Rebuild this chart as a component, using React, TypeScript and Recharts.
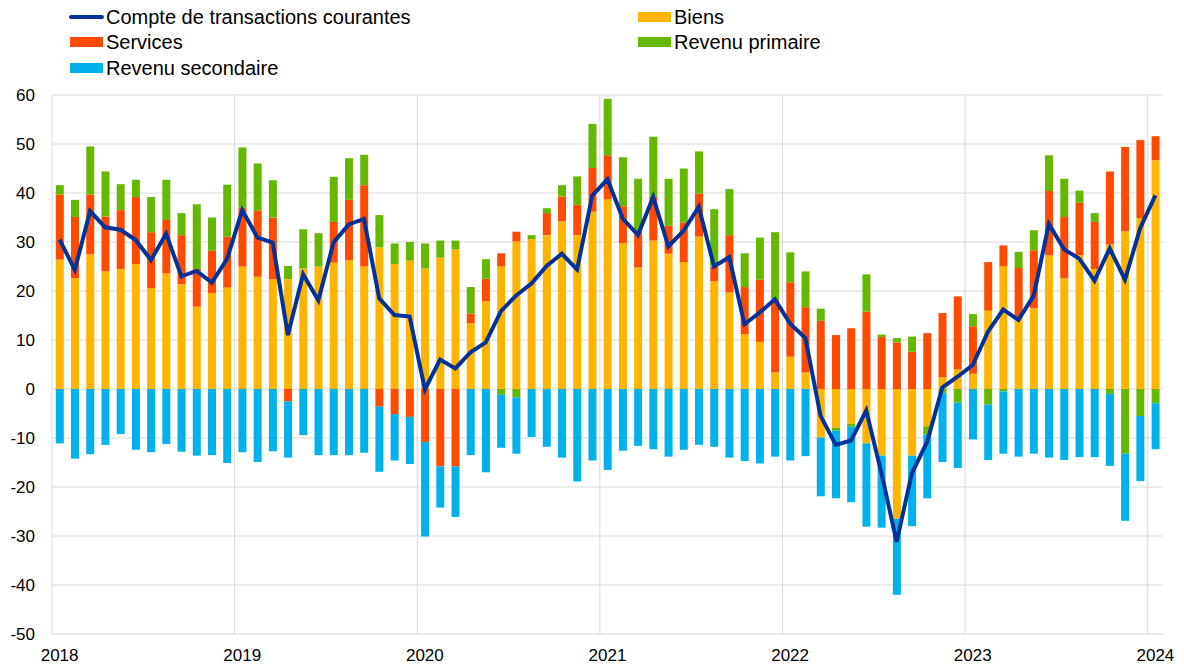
import React from "react";
import {
  ComposedChart,
  Bar,
  Line,
  XAxis,
  YAxis,
  CartesianGrid,
} from "recharts";

// monthly data, Jan 2018 - Jan 2024 (EUR bn)
const years = ["2018", "2019", "2020", "2021", "2022", "2023", "2024"];

const biens = [
  26.4, 22.6, 27.5, 24.0, 24.5, 25.5, 20.6, 23.6, 21.4, 16.8, 19.6, 20.7,
  25.0, 22.9, 22.4, 22.4, 24.6, 25.0, 25.8, 26.3, 25.0, 28.9, 25.5, 26.2,
  24.6, 26.8, 28.5, 13.4, 17.9, 25.0, 30.1, 30.6, 31.4, 34.2, 31.4, 36.2,
  38.7, 29.8, 24.8, 30.3, 27.6, 25.9, 31.1, 22.0, 19.7, 11.2, 9.6, 3.4,
  6.6, 3.4, -9.9, -7.9, -7.1, -11.1, -13.6, -26.5, -13.6, -7.6, 2.4, 4.0,
  3.1, 16.0, 25.0, 14.6, 16.5, 27.3, 22.6, 27.3, 24.5, 29.5, 32.2, 34.9,
  46.7,
];

const services = [
  13.3, 12.5, 12.2, 11.2, 12.0, 13.7, 11.4, 10.9, 10.0, 7.7, 8.6, 10.4,
  12.0, 13.5, 12.6, -2.5, 0, 0, 8.3, 12.3, 16.6, -3.6, -5.1, -5.7,
  -10.8, -15.8, -15.8, 2.0, 4.6, 2.7, 2.0, 0, 4.5, 5.1, 6.2, 8.9,
  9.0, 7.5, 7.3, 8.9, 5.7, 8.1, 8.8, 3.0, 11.7, 9.6, 12.7, 14.8,
  15.2, 13.3, 13.9, 11.0, 12.4, 15.8, 10.6, 9.5, 7.6, 11.4, 13.1, 14.9,
  9.7, 9.9, 4.3, 10.1, 11.8, 13.1, 12.5, 10.7, 9.6, 14.9, 17.2, 15.9,
  4.9,
];

const revenuPrimaire = [
  1.9, 3.5, 9.8, 9.2, 5.3, 3.5, 7.2, 8.2, 4.5, 13.2, 6.8, 10.6,
  12.3, 9.6, 7.6, 2.7, 8.0, 6.8, 9.2, 8.5, 6.2, 6.6, 4.2, 3.8,
  5.1, 3.5, 1.8, 5.4, 4.0, -1.2, -1.7, 0.8, 1.0, 2.3, 5.8, 9.0,
  11.5, 10.0, 10.8, 12.3, 9.6, 11.0, 8.6, 11.7, 9.4, 6.9, 8.6, 13.8,
  6.1, 7.3, 2.5, -0.6, -0.6, 7.6, 0.5, 0.9, 3.1, -1.7, -0.9, -2.8,
  2.5, -3.2, -0.5, 3.3, 4.1, 7.3, 7.8, 2.5, 1.8, -1.0, -13.2, -5.5,
  -2.9,
];

const revenuSecondaire = [
  -11.1, -14.2, -13.3, -11.4, -9.2, -12.4, -12.9, -11.2, -12.8, -13.6, -13.5, -15.1,
  -12.9, -14.9, -12.7, -11.5, -9.4, -13.5, -13.5, -13.5, -13.0, -13.3, -9.5, -9.6,
  -19.3, -8.4, -10.3, -13.5, -17.0, -10.8, -11.5, -9.8, -11.8, -14.0, -18.9, -14.6,
  -16.5, -12.6, -11.6, -12.3, -13.8, -12.4, -11.4, -11.8, -14.0, -14.7, -15.2, -13.8,
  -14.6, -13.7, -12.0, -13.8, -15.4, -17.0, -14.7, -15.5, -14.4, -13.0, -14.0, -13.3,
  -10.3, -11.3, -12.7, -13.8, -13.2, -14.0, -14.5, -13.9, -13.9, -14.7, -13.7, -13.3,
  -9.4,
];

const compteCourant = [
  30.5, 24.3, 36.3, 33.0, 32.5, 30.4, 26.3, 31.7, 23.0, 24.1, 21.7, 26.5,
  36.5, 30.9, 29.9, 11.0, 23.4, 18.1, 29.9, 33.6, 34.7, 18.5, 15.1, 14.8,
  -0.1, 6.0, 4.2, 7.5, 9.5, 15.9, 19.1, 21.5, 25.1, 27.6, 24.4, 39.5,
  42.8, 34.8, 31.4, 39.2, 29.1, 32.3, 37.2, 25.0, 26.9, 13.2, 15.6, 18.3,
  13.3, 10.4, -5.5, -11.4, -10.5, -4.4, -17.2, -31.2, -17.2, -10.8, 0.3, 2.5,
  4.9, 11.7, 16.2, 14.1, 19.0, 33.7, 28.5, 26.6, 22.1, 28.7, 22.3, 32.8,
  39.5,
];

const yTicks = [60, 50, 40, 30, 20, 10, 0, -10, -20, -30, -40, -50];

const months = years
  .flatMap((y) => Array.from({ length: 12 }, (_, m) => `${y}-${String(m + 1).padStart(2, "0")}`))
  .slice(0, biens.length);

const data = months.map((m, i) => ({
  month: m,
  biens: biens[i],
  services: services[i],
  primaire: revenuPrimaire[i],
  secondaire: revenuSecondaire[i],
  compte: compteCourant[i],
}));

const COLORS = {
  compte: "#003299",
  biens: "#FFB400",
  services: "#FF4B00",
  primaire: "#65B800",
  secondaire: "#00B1EA",
};

const FONT = "'Liberation Sans', Arial, sans-serif";

const legendItems = [
  { label: "Compte de transactions courantes", color: COLORS.compte, line: true, x: 69, y: 17 },
  { label: "Biens", color: COLORS.biens, x: 638, y: 17 },
  { label: "Services", color: COLORS.services, x: 70, y: 42 },
  { label: "Revenu primaire", color: COLORS.primaire, x: 638, y: 42 },
  { label: "Revenu secondaire", color: COLORS.secondaire, x: 70, y: 68 },
];

function ChartLegend() {
  return (
    <>
      {legendItems.map((it) => (
        <div
          key={it.label}
          style={{
            position: "absolute",
            left: it.x,
            top: it.y - 12,
            height: 24,
            display: "flex",
            alignItems: "center",
            fontFamily: FONT,
            fontSize: 20,
            color: "#000",
            whiteSpace: "nowrap",
          }}
        >
          <span
            style={{
              display: "inline-block",
              width: it.line ? 35 : 33,
              height: it.line ? 4 : 10,
              borderRadius: it.line ? 2 : 0,
              background: it.color,
              marginRight: it.line ? 2 : 3,
            }}
          />
          {it.label}
        </div>
      ))}
    </>
  );
}

export default function App() {
  const yearTick = (v: string) => (v.endsWith("-01") ? v.slice(0, 4) : "");

  return (
    <div style={{ position: "absolute", left: 0, top: 0, width: 1184, height: 668, background: "#fff" }}>
      <ChartLegend />
      <ComposedChart
        width={1184}
        height={668}
        data={data}
        stackOffset="sign"
        barCategoryGap="25%"
        margin={{ top: 95, right: 21, bottom: 4, left: 0 }}
      >
        <CartesianGrid
          stroke="#d9d9d9"
          strokeWidth={1}
          verticalCoordinatesGenerator={({ offset }: any) =>
            [0, 1, 2, 3, 4, 5, 6].map((k) => offset.left + (offset.width * k * 12) / data.length)
          }
        />
        <XAxis
          dataKey="month"
          interval={0}
          tickFormatter={yearTick}
          axisLine={false}
          tickLine={false}
          tickMargin={9}
          height={30}
          tick={{ fontFamily: FONT, fontSize: 17, fill: "#000" }}
        />
        <YAxis
          domain={[-50, 60]}
          ticks={yTicks}
          interval={0}
          width={52}
          axisLine={false}
          tickLine={false}
          tickMargin={11}
          tick={{ fontFamily: FONT, fontSize: 17, fill: "#000" }}
        />
        <Bar dataKey="biens" stackId="a" fill={COLORS.biens} isAnimationActive={false} />
        <Bar dataKey="services" stackId="a" fill={COLORS.services} isAnimationActive={false} />
        <Bar dataKey="primaire" stackId="a" fill={COLORS.primaire} isAnimationActive={false} />
        <Bar dataKey="secondaire" stackId="a" fill={COLORS.secondaire} isAnimationActive={false} />
        <Line
          dataKey="compte"
          type="linear"
          stroke={COLORS.compte}
          strokeWidth={4}
          dot={false}
          activeDot={false}
          isAnimationActive={false}
        />
      </ComposedChart>
    </div>
  );
}
